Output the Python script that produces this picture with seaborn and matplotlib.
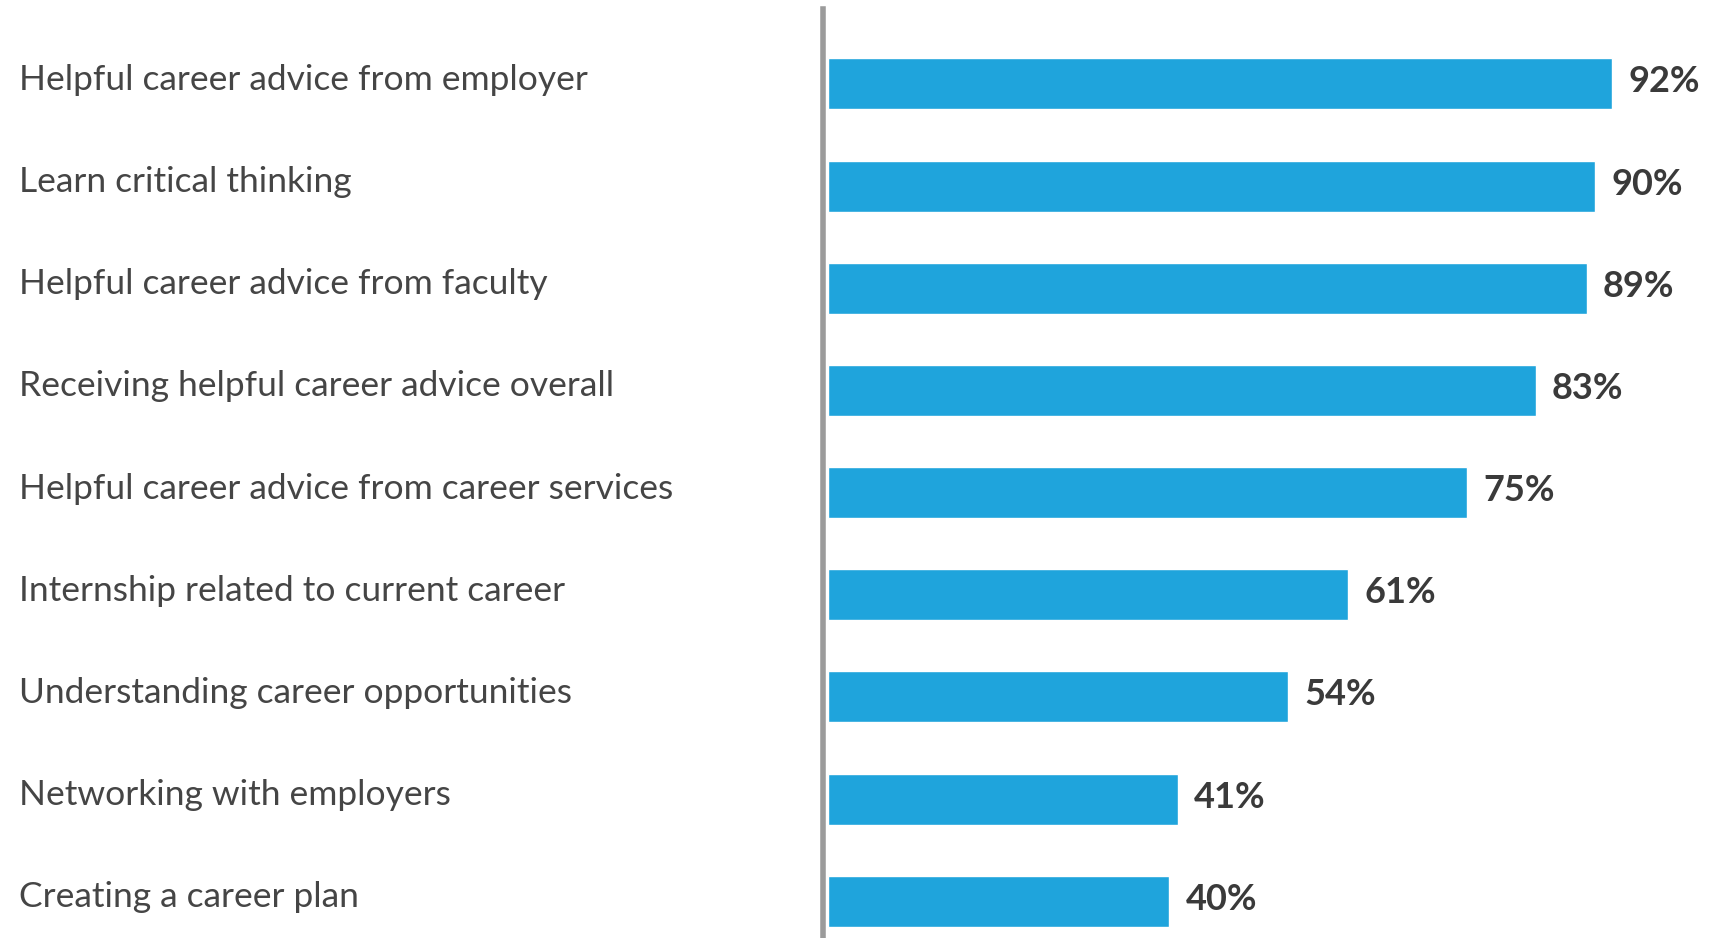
import matplotlib
matplotlib.use("Agg")
import matplotlib.pyplot as plt
import matplotlib.transforms as mtransforms
import seaborn as sns
import pandas as pd

categories = [
    "Helpful career advice from employer",
    "Learn critical thinking",
    "Helpful career advice from faculty",
    "Receiving helpful career advice overall",
    "Helpful career advice from career services",
    "Internship related to current career",
    "Understanding career opportunities",
    "Networking with employers",
    "Creating a career plan",
]
values = [92, 90, 89, 83, 75, 61, 54, 41, 40]

df = pd.DataFrame({"category": categories, "value": values})

sns.set_style("white")
plt.rcParams["font.family"] = ["Lato", "DejaVu Sans"]

fig = plt.figure(figsize=(17.11, 9.38), dpi=100)
ax = fig.add_axes([0.4842, 0.0, 0.5158, 0.990])

sns.barplot(data=df, y="category", x="value", color="#1fa4dc", orient="h",
            width=0.5, saturation=1, ax=ax)

ax.set_xlim(0, 103.6)
ax.set_ylim(8.36, -0.73)
ax.set_xlabel("")
ax.set_ylabel("")
ax.set_xticks([])
ax.set_yticks([])
for side in ["top", "right", "bottom"]:
    ax.spines[side].set_visible(False)
ax.spines["left"].set_color("#9b9b9b")
ax.spines["left"].set_linewidth(4)
ax.spines["left"].set_position(("outward", 4))

trans = mtransforms.blended_transform_factory(fig.transFigure, ax.transData)
for i, label in enumerate(categories):
    ax.text(0.011, i - 0.04, label, transform=trans, ha="left", va="center",
            fontsize=25.5, color="#454545")

for i, value in enumerate(values):
    ax.text(value + 1.9, i - 0.02, f"{value}%", ha="left", va="center",
            fontsize=26, fontweight="bold", color="#3a3a3a")

fig.savefig("out.png", dpi=100)
